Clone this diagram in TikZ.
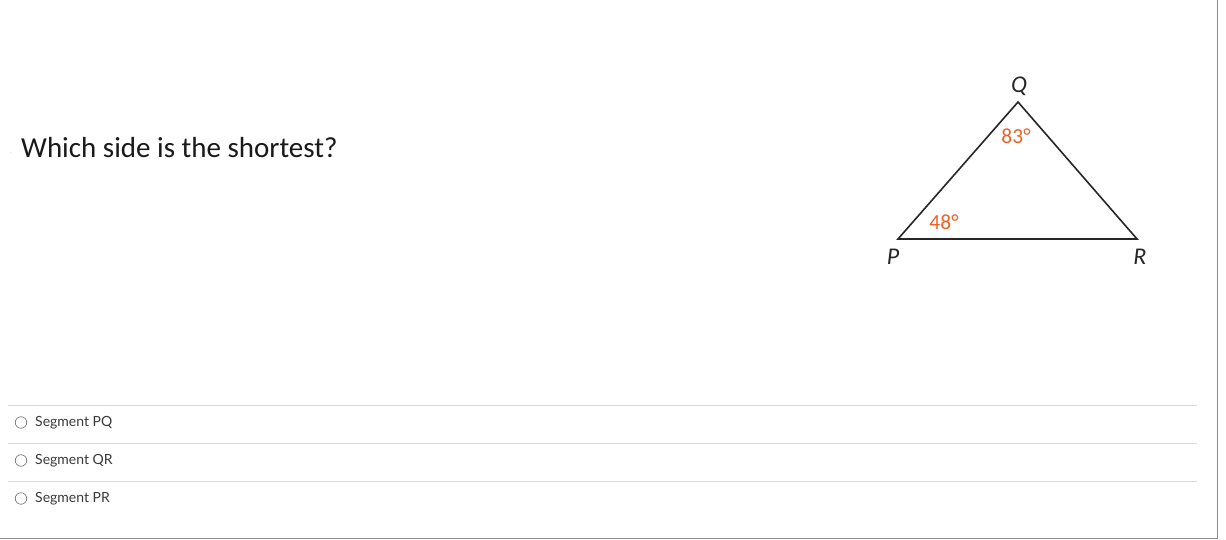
\documentclass[tikz,border=0pt]{standalone}
\usepackage{fontspec}
\setmainfont{Carlito}
\newfontfamily\latofont{Lato}
\definecolor{ang}{HTML}{E8632B}
\definecolor{sep}{HTML}{DCDCDC}
\definecolor{opt}{HTML}{3A3A3A}
\begin{document}
\begin{tikzpicture}[x=1pt,y=-1pt,
  vlabel/.style={font=\fontsize{24}{24}\selectfont\itshape, text=black!85, inner sep=0pt},
  alabel/.style={font=\fontsize{21.5}{21.5}\selectfont, text=ang, inner sep=0pt},
  optcircle/.style={circle, draw=black!60, line width=0.6pt, minimum size=11.5pt, inner sep=0pt},
  opttext/.style={font=\latofont\fontsize{14}{14}\selectfont, text=opt, anchor=west, inner sep=0pt},
  sepline/.style={draw=sep, line width=0.8pt}]
\useasboundingbox (0,0) rectangle (1226,540);
\fill[white] (0,0) rectangle (1226,540);
% frame
\draw[black!45, line width=1pt] (1217.5,0) -- (1217.5,538.5) -- (0,538.5);
% question
\node[font=\fontsize{5}{5}\selectfont, text=black!50, inner sep=0pt] (tick) at (11,154) {,};
\node[font=\fontsize{29}{29}\selectfont, anchor=base west, inner sep=0pt, text=black!90] (q) at (21,157.5) {Which side is the shortest?};
% triangle
\coordinate (P) at (898,239);
\coordinate (Q) at (1018,102);
\coordinate (R) at (1137,239);
\draw[line width=1.6pt, black!85, line join=miter] (P) -- (Q) -- (R) -- cycle;
\node[vlabel] (lQ) at (1019,86) {Q};
\node[vlabel] (lP) at (893,257) {P};
\node[vlabel] (lR) at (1140,257) {R};
\node[alabel] (aQ) at (1016,136.5) {83°};
\node[alabel] (aP) at (944,222) {48°};
% options
\draw[sepline] (8,405) -- (1197,405);
\draw[sepline] (8,443) -- (1197,443);
\draw[sepline] (8,481) -- (1197,481);
\node[optcircle] (c1) at (21,422.5) {};
\node[optcircle] (c2) at (21,460.5) {};
\node[optcircle] (c3) at (21,498.5) {};
\node[opttext] (t1) at (35,423) {Segment PQ};
\node[opttext] (t2) at (35,461) {Segment QR};
\node[opttext] (t3) at (35,499) {Segment PR};
\end{tikzpicture}
\end{document}
